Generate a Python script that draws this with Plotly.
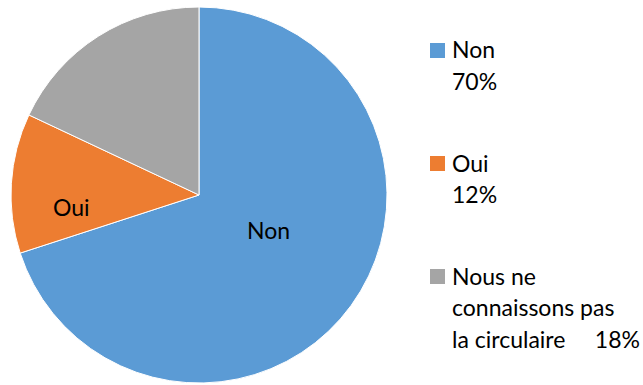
import plotly.graph_objects as go

# Survey answers and their shares (percent)
labels = ["Non", "Oui", "Nous ne connaissons pas la circulaire"]
values = [70, 12, 18]
colors = ["#5B9BD5", "#ED7D31", "#A5A5A5"]

# Legend text, wrapped as it is laid out beside the pie
legend_lines = [
    ["Non", "70%"],
    ["Oui", "12%"],
    ["Nous ne", "connaissons pas", "la circulaire   18%"],
]

W, H = 643, 385
FONT = "Lato"
FS = 23
TXT = "#000000"


def px(x):
    return x / W


def py(y):
    return 1 - y / H


fig = go.Figure()

fig.add_trace(go.Pie(
    labels=labels,
    values=values,
    sort=False,
    direction="clockwise",
    rotation=0,
    marker=dict(colors=colors, line=dict(color="white", width=1)),
    textinfo="none",
    hoverinfo="label+percent",
    showlegend=False,
    domain=dict(x=[px(11), px(387)], y=[py(383), py(7)]),
))

annotations = []

# In-slice category labels
slice_label_pos = {"Non": (268, 230), "Oui": (71, 207)}
for lab, (lx, ly) in slice_label_pos.items():
    annotations.append(dict(
        x=px(lx), y=py(ly), xref="paper", yref="paper",
        text=lab, showarrow=False, xanchor="center", yanchor="middle",
        font=dict(family=FONT, size=FS, color=TXT),
    ))

# Legend: square swatch plus wrapped text lines
shapes = []
block_tops = [50.5, 163.5, 276.5]
line_gap = 31.5
for color, lines, top in zip(colors, legend_lines, block_tops):
    shapes.append(dict(
        type="rect", xref="paper", yref="paper",
        x0=px(430), x1=px(445), y0=py(top + 7.5), y1=py(top - 7.5),
        fillcolor=color, line=dict(width=0),
    ))
    for i, line in enumerate(lines):
        annotations.append(dict(
            x=px(450), y=py(top - 1 + i * line_gap), xref="paper", yref="paper",
            text=line.replace("   ", "&nbsp;" * 5), showarrow=False,
            xanchor="left", yanchor="middle",
            font=dict(family=FONT, size=FS, color=TXT),
        ))

fig.update_layout(
    width=W, height=H,
    margin=dict(l=0, r=0, t=0, b=0),
    paper_bgcolor="white",
    plot_bgcolor="white",
    showlegend=False,
    annotations=annotations,
    shapes=shapes,
)

fig.write_html("out.html")
